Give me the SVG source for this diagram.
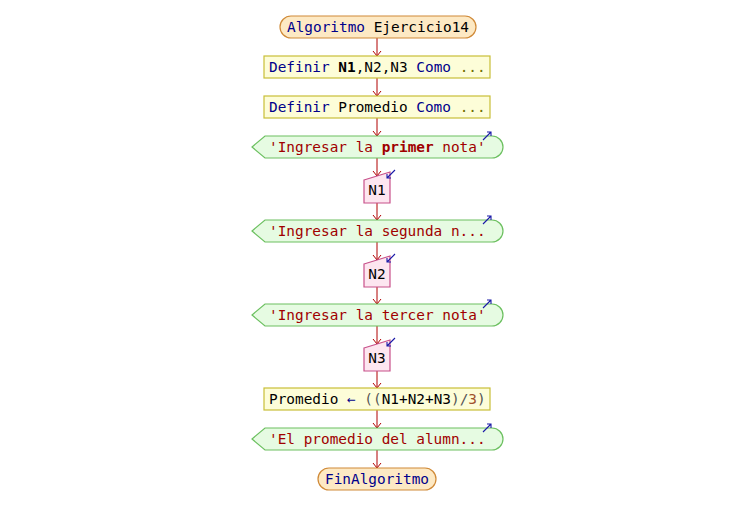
<svg xmlns="http://www.w3.org/2000/svg" width="754" height="526" viewBox="0 0 754 526">
  <style>
    text { font-family: "DejaVu Sans Mono", "Liberation Mono", monospace; font-size: 14.4px; fill: #000; }
    .kw { fill: #00008b; }
    .str { fill: #a00000; }
    .num { fill: #a0522d; }
    .dim { fill: #707000; }
    .par { fill: #555; }
    .b { font-weight: bold; }
    .term { fill: #fde9c4; stroke: #d08a38; stroke-width: 1.2; }
    .proc { fill: #fdfdd8; stroke: #c8bf38; stroke-width: 1.2; }
    .out { fill: #e6fbe2; stroke: #6cc060; stroke-width: 1.2; }
    .in { fill: #fde6f0; stroke: #c8508a; stroke-width: 1.2; }
    .flow { stroke: #b00000; stroke-width: 1; fill: none; marker-end: url(#head); }
    .io { stroke: #1a1aa8; stroke-width: 1.1; fill: none; }
  </style>
  <defs>
    <marker id="head" viewBox="0 0 10 10" refX="10" refY="5" markerWidth="10" markerHeight="10" markerUnits="userSpaceOnUse" orient="auto">
      <path d="M5 1 L10 5 L5 9" fill="none" stroke="#b00000" stroke-width="1"/>
    </marker>
    <!-- small blue I/O hints: outgoing (up-right) and incoming (down-left) -->
    <path id="outHint" class="io" d="M0 8 L8 0 M4 0 L8 0 L8 4"/>
    <path id="inHint" class="io" d="M8 0 L0 8 M0 4 L0 8 L4 8"/>
  </defs>
  <rect width="754" height="526" fill="#fff"/>

  <!-- connectors -->
  <g id="connectors">
    <line class="flow" x1="377" y1="38" x2="377" y2="56"/>
    <line class="flow" x1="377" y1="78" x2="377" y2="96"/>
    <line class="flow" x1="377" y1="118" x2="377" y2="136"/>
    <line class="flow" x1="377" y1="158" x2="377" y2="176"/>
    <line class="flow" x1="377" y1="203" x2="377" y2="220"/>
    <line class="flow" x1="377" y1="242" x2="377" y2="260"/>
    <line class="flow" x1="377" y1="287" x2="377" y2="304"/>
    <line class="flow" x1="377" y1="326" x2="377" y2="344"/>
    <line class="flow" x1="377" y1="371" x2="377" y2="388"/>
    <line class="flow" x1="377" y1="410" x2="377" y2="428"/>
    <line class="flow" x1="377" y1="450" x2="377" y2="468"/>
  </g>

  <g id="inicio">
    <rect class="term" x="280" y="16" width="196" height="22" rx="11"/>
    <text x="378" y="32" text-anchor="middle"><tspan class="kw">Algoritmo</tspan> Ejercicio14</text>
  </g>

  <g id="definir1">
    <rect class="proc" x="264" y="56" width="226" height="22"/>
    <text x="269" y="72"><tspan class="kw">Definir</tspan> <tspan class="b">N1</tspan>,N2,N3 <tspan class="kw">Como</tspan> <tspan class="dim">...</tspan></text>
  </g>

  <g id="definir2">
    <rect class="proc" x="264" y="96" width="226" height="22"/>
    <text x="269" y="112"><tspan class="kw">Definir</tspan> Promedio <tspan class="kw">Como</tspan> <tspan class="dim">...</tspan></text>
  </g>

  <g id="escribir1">
    <path class="out" d="M265 136 L492 136 A11 11 0 0 1 492 158 L265 158 L252 147 Z"/>
    <text class="str" x="269" y="152">'Ingresar la <tspan class="b">primer</tspan> nota'</text>
    <use href="#outHint" x="483" y="132"/>
  </g>

  <g id="leer1">
    <path class="in" d="M364 180 L390 172 L390 203 L364 203 Z"/>
    <text x="377" y="195" text-anchor="middle">N1</text>
    <use href="#inHint" x="387" y="170"/>
  </g>

  <g id="escribir2">
    <path class="out" d="M265 220 L492 220 A11 11 0 0 1 492 242 L265 242 L252 231 Z"/>
    <text class="str" x="269" y="236">'Ingresar la segunda n...</text>
    <use href="#outHint" x="483" y="216"/>
  </g>

  <g id="leer2">
    <path class="in" d="M364 264 L390 256 L390 287 L364 287 Z"/>
    <text x="377" y="279" text-anchor="middle">N2</text>
    <use href="#inHint" x="387" y="254"/>
  </g>

  <g id="escribir3">
    <path class="out" d="M265 304 L492 304 A11 11 0 0 1 492 326 L265 326 L252 315 Z"/>
    <text class="str" x="269" y="320">'Ingresar la tercer nota'</text>
    <use href="#outHint" x="483" y="300"/>
  </g>

  <g id="leer3">
    <path class="in" d="M364 348 L390 340 L390 371 L364 371 Z"/>
    <text x="377" y="363" text-anchor="middle">N3</text>
    <use href="#inHint" x="387" y="338"/>
  </g>

  <g id="asignar">
    <rect class="proc" x="264" y="388" width="226" height="22"/>
    <text x="269" y="404">Promedio <tspan class="kw">←</tspan> <tspan class="par">((</tspan>N1+N2+N3<tspan class="par">)/</tspan><tspan class="num">3</tspan><tspan class="par">)</tspan></text>
  </g>

  <g id="escribir4">
    <path class="out" d="M265 428 L492 428 A11 11 0 0 1 492 450 L265 450 L252 439 Z"/>
    <text class="str" x="269" y="444">'El promedio del alumn...</text>
    <use href="#outHint" x="483" y="424"/>
  </g>

  <g id="fin">
    <rect class="term" x="318" y="468" width="118" height="22" rx="11"/>
    <text x="377" y="484" text-anchor="middle" class="kw">FinAlgoritmo</text>
  </g>
</svg>
